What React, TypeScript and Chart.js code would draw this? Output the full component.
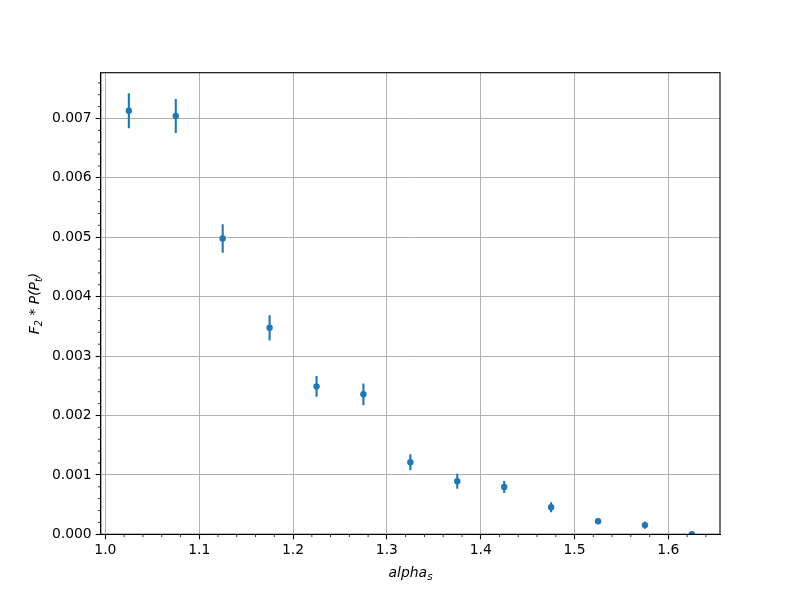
import React, { useEffect, useRef } from "react";
import { Chart, registerables } from "chart.js";

Chart.register(...registerables);

const xValues = [1.025, 1.075, 1.125, 1.175, 1.225, 1.275, 1.325, 1.375, 1.425, 1.475, 1.525, 1.575, 1.625];
const yValues = [0.00713, 0.00704, 0.00498, 0.003476, 0.00249, 0.002357, 0.001212, 0.000892, 0.000796, 0.000455, 0.00022, 0.000155, 0.0];
const yErrors = [0.000295, 0.000287, 0.00024, 0.000213, 0.000175, 0.000183, 0.000135, 0.000126, 0.0001, 0.000085, 0.00004, 0.00006, 0.00001];

const xTicks = [1.0, 1.1, 1.2, 1.3, 1.4, 1.5, 1.6];
const yTicks = [0, 0.001, 0.002, 0.003, 0.004, 0.005, 0.006, 0.007];
const xLabel = ["alpha", "s"];
const yLabelParts: [string, boolean][] = [["F", false], ["2", true], [" * P(P", false], ["t", true], [")", false]];

const BLUE = "#1f77b4";
const FONT = "DejaVu Sans";
const FS = 13.9;

const errorBarPlugin = {
  id: "errorBars",
  beforeDatasetsDraw(chart: any) {
    const { ctx, chartArea, scales } = chart;
    ctx.save();
    ctx.beginPath();
    ctx.rect(chartArea.left, chartArea.top, chartArea.right - chartArea.left, chartArea.bottom - chartArea.top);
    ctx.clip();
    ctx.strokeStyle = BLUE;
    ctx.lineWidth = 2.1;
    xValues.forEach((x, i) => {
      const px = scales.x.getPixelForValue(x);
      const y1 = scales.y.getPixelForValue(yValues[i] - yErrors[i]);
      const y2 = scales.y.getPixelForValue(yValues[i] + yErrors[i]);
      ctx.beginPath();
      ctx.moveTo(px, y1);
      ctx.lineTo(px, y2);
      ctx.stroke();
    });
    ctx.restore();
  },
};

const framePlugin = {
  id: "frame",
  afterDraw(chart: any) {
    const { ctx, chartArea, scales } = chart;
    const { left, right, top, bottom } = chartArea;
    ctx.save();
    // spines
    ctx.strokeStyle = "#000";
    ctx.lineWidth = 1.1;
    ctx.strokeRect(left, top, right - left, bottom - top);
    // minor ticks
    ctx.lineWidth = 0.8;
    ctx.beginPath();
    for (let k = 0; k <= 40; k++) {
      const v = 0.96 + k * 0.02;
      if (k % 5 === 2) continue;
      const px = scales.x.getPixelForValue(v);
      if (px < left - 0.5 || px > right + 0.5) continue;
      ctx.moveTo(px, bottom);
      ctx.lineTo(px, bottom + 2.8);
    }
    for (let k = 0; k <= 40; k++) {
      if (k % 5 === 0) continue;
      const v = k * 0.0002;
      const py = scales.y.getPixelForValue(v);
      if (py < top - 0.5 || py > bottom + 0.5) continue;
      ctx.moveTo(left, py);
      ctx.lineTo(left - 2.8, py);
    }
    ctx.stroke();

    // axis labels
    ctx.fillStyle = "#000";
    ctx.textBaseline = "alphabetic";
    const big = `italic ${FS}px '${FONT}'`;
    const small = `italic ${FS * 0.7}px '${FONT}'`;
    // x label
    ctx.font = big;
    const w1 = ctx.measureText(xLabel[0]).width;
    ctx.font = small;
    const w2 = ctx.measureText(xLabel[1]).width;
    const cx = (left + right) / 2;
    const baseY = 577;
    let sx = cx - (w1 + w2) / 2;
    ctx.font = big;
    ctx.textAlign = "left";
    ctx.fillText(xLabel[0], sx, baseY);
    ctx.font = small;
    ctx.fillText(xLabel[1], sx + w1 + 0.5, baseY + 3);

    // y label (rotated)
    let total = 0;
    const widths = yLabelParts.map(([t, sub]) => {
      ctx.font = sub ? small : big;
      const w = ctx.measureText(t).width;
      total += w;
      return w;
    });
    ctx.translate(39, (top + bottom) / 2);
    ctx.rotate(-Math.PI / 2);
    let ox = -total / 2;
    yLabelParts.forEach(([t, sub], i) => {
      ctx.font = sub ? small : big;
      ctx.fillText(t, ox, sub ? 3 : 0);
      ox += widths[i];
    });
    ctx.restore();
  },
};

export default function App() {
  const ref = useRef<HTMLCanvasElement | null>(null);
  useEffect(() => {
    document.body.style.margin = "0";
    const chart = new Chart(ref.current as HTMLCanvasElement, {
      type: "scatter",
      data: {
        datasets: [
          {
            data: xValues.map((x, i) => ({ x, y: yValues[i] })),
            backgroundColor: BLUE,
            borderColor: BLUE,
            borderWidth: 0,
            pointRadius: 3.2,
            pointHoverRadius: 3.2,
          },
        ],
      },
      options: {
        animation: false,
        responsive: false,
        events: [],
        layout: { padding: { left: 0, top: 72.7, right: 80, bottom: 0 } },
        plugins: { legend: { display: false }, tooltip: { enabled: false } },
        scales: {
          x: {
            type: "linear",
            min: 0.995,
            max: 1.655,
            offset: false,
            afterBuildTicks: (s: any) => {
              s.ticks = xTicks.map((v) => ({ value: v }));
            },
            afterFit: (s: any) => {
              s.height = 65.7;
            },
            ticks: {
              color: "#000",
              font: { family: FONT, size: FS },
              padding: 3,
              maxRotation: 0,
              autoSkip: false,
              callback: (v: any) => Number(v).toFixed(1),
            },
            grid: { color: "#b0b0b0", lineWidth: 1, tickColor: "#000", tickLength: 5, tickWidth: 1.1 },
            border: { display: true, color: "#000", width: 1.1 },
          },
          y: {
            type: "linear",
            min: 0,
            max: 0.00777,
            afterBuildTicks: (s: any) => {
              s.ticks = yTicks.map((v) => ({ value: v }));
            },
            afterFit: (s: any) => {
              s.width = 100.7;
            },
            ticks: {
              color: "#000",
              font: { family: FONT, size: FS },
              padding: 4,
              autoSkip: false,
              callback: (v: any) => Number(v).toFixed(3),
            },
            grid: { color: "#b0b0b0", lineWidth: 1, tickColor: "#000", tickLength: 5, tickWidth: 1.1 },
            border: { display: true, color: "#000", width: 1.1 },
          },
        },
      },
      plugins: [errorBarPlugin, framePlugin],
    } as any);
    return () => chart.destroy();
  }, []);
  return (
    <div style={{ position: "absolute", left: 0, top: 0, width: 800, height: 600, background: "#fff" }}>
      <canvas ref={ref} width={800} height={600} />
    </div>
  );
}
